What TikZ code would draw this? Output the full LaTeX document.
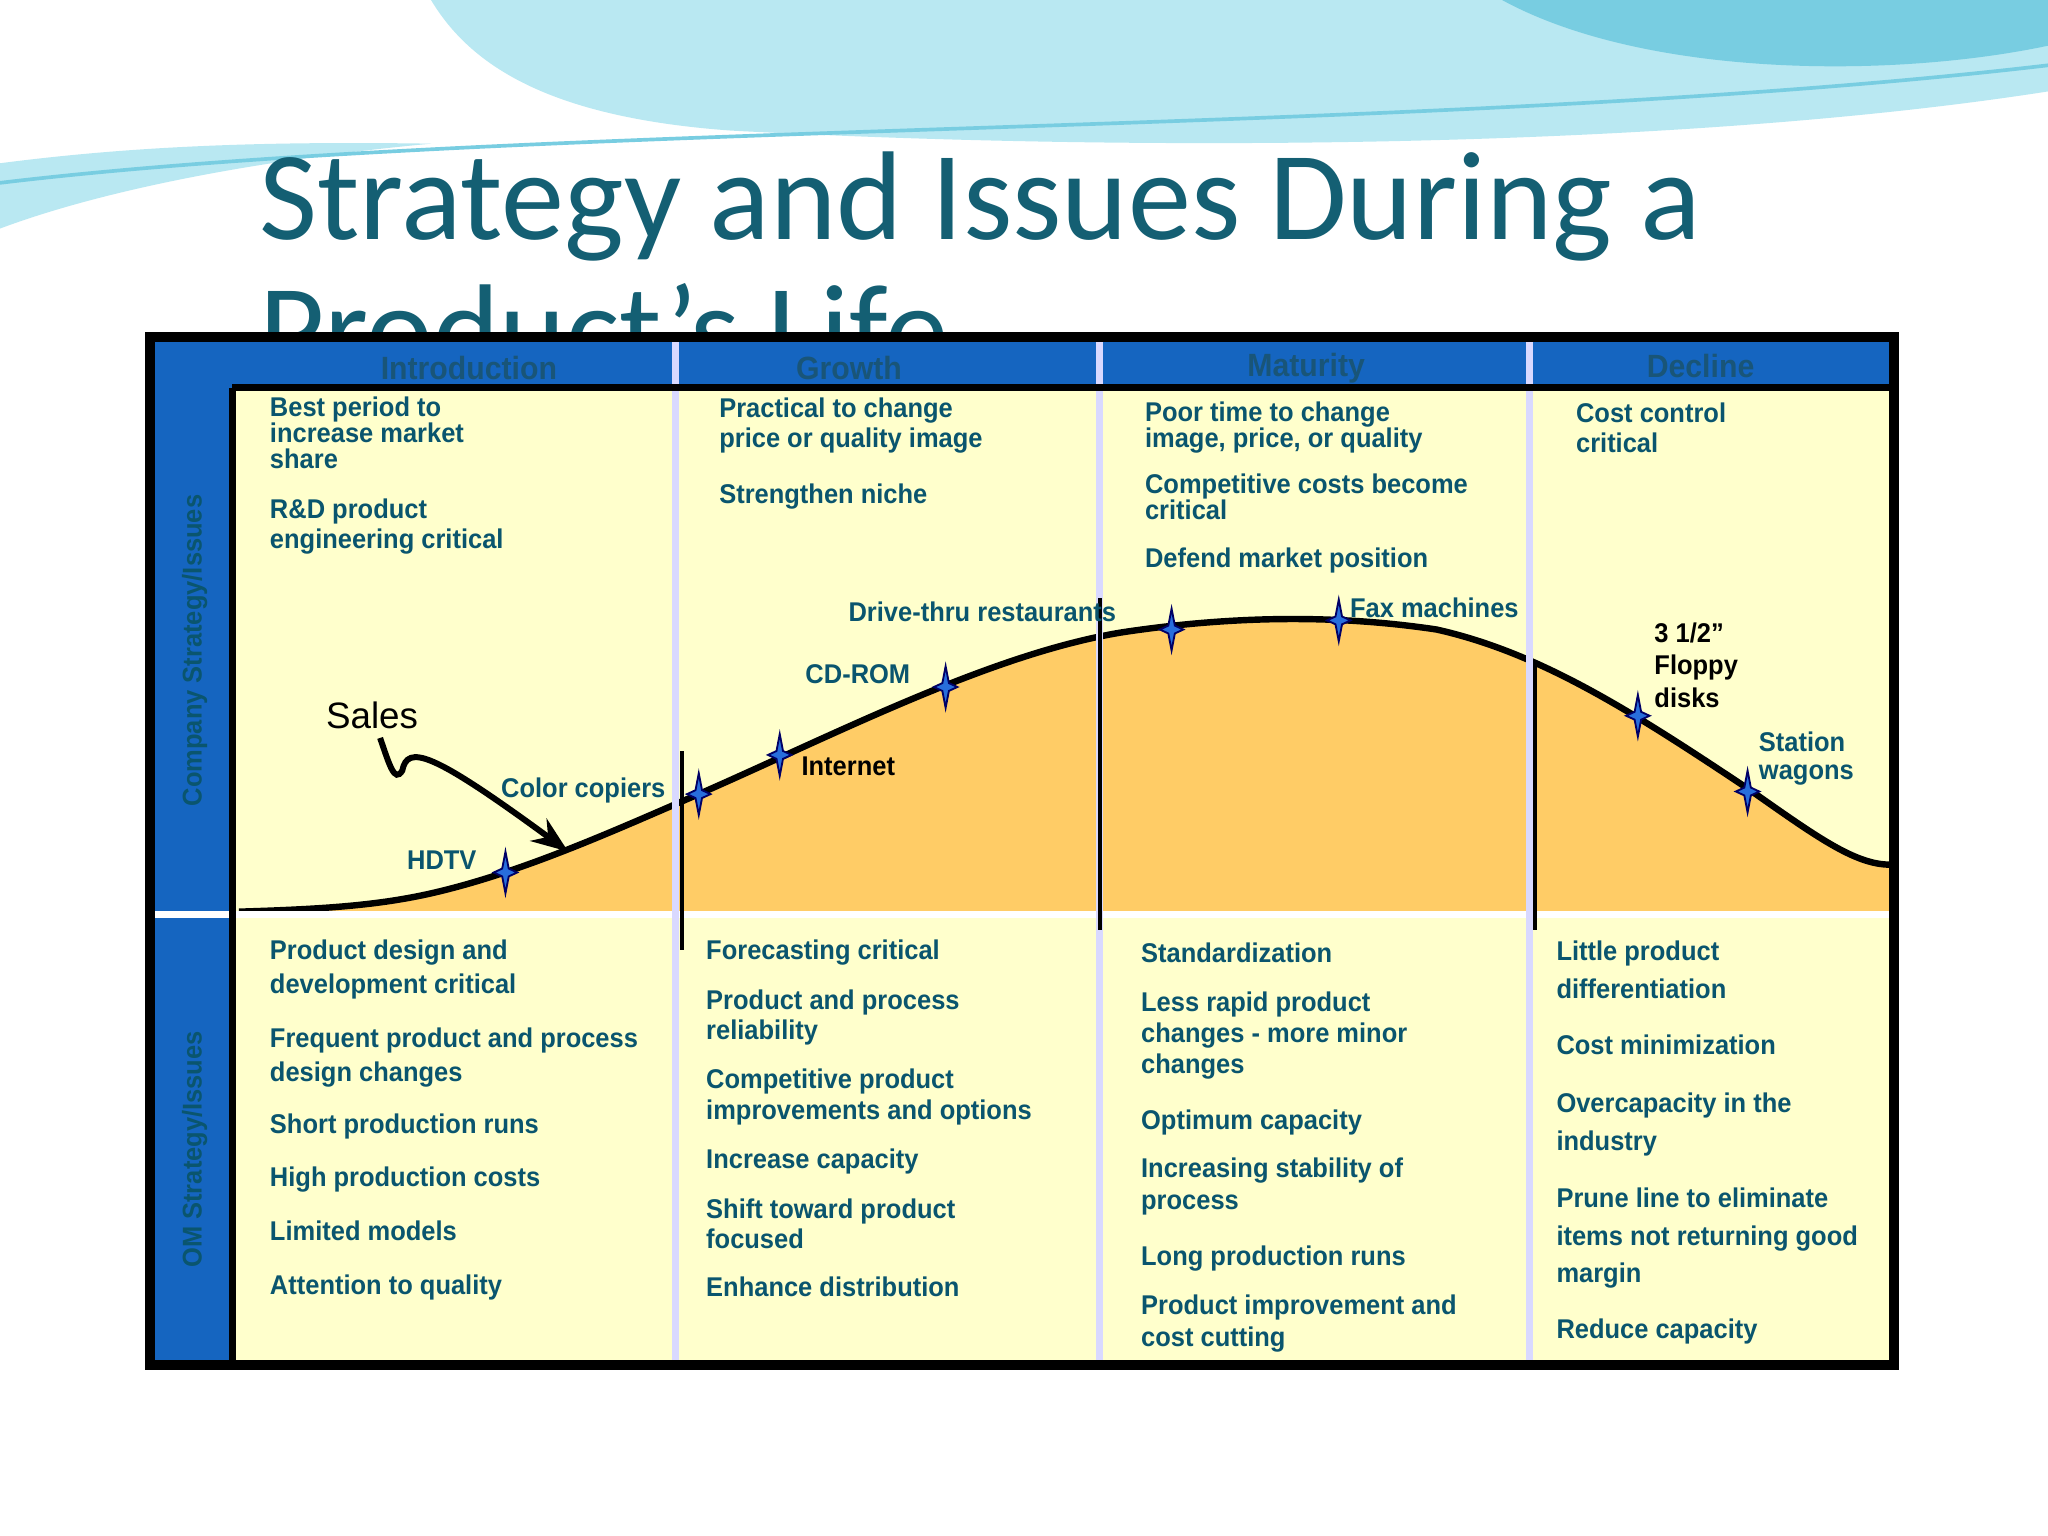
\documentclass[tikz,border=0pt]{standalone}
\usepackage{fontspec}
\setmainfont{Liberation Sans}
\newfontfamily\nar[FakeStretch=0.94]{Liberation Sans}
\newfontfamily\ttl{Carlito}
\usetikzlibrary{arrows.meta}
\definecolor{tealc}{RGB}{10,85,110}
\definecolor{titlec}{RGB}{20,95,115}
\definecolor{hdrblue}{RGB}{21,101,192}
\definecolor{hdrtxt}{RGB}{25,85,120}
\definecolor{bodyy}{RGB}{255,255,204}
\definecolor{curvef}{RGB}{255,204,102}
\definecolor{starb}{RGB}{40,110,220}
\definecolor{wave1}{RGB}{185,232,242}
\definecolor{wave2}{RGB}{120,205,225}
\newcommand\spark[1]{\filldraw[fill=starb,draw=blue!40!black,line width=0.4pt,shift={(#1)}] (0,-16)--(2.5,-3)--(9,0)--(2.5,3)--(0,16)--(-2.5,3)--(-9,0)--(-2.5,-3)--cycle;}
\begin{document}
\begin{tikzpicture}[x=0.01cm,y=-0.01cm,
  txt/.style={anchor=north west,inner sep=0,align=left,text=tealc,font=\nar\bfseries\fontsize{5.9}{#1}\selectfont},
  txt/.default=6.54,
  blk/.style={anchor=north west,inner sep=0,align=left,text=black,font=\nar\bfseries\fontsize{5.9}{#1}\selectfont},
  blk/.default=7.1,
  hdr/.style={inner sep=0,text=hdrtxt,font=\nar\bfseries\fontsize{7}{7}\selectfont},
  side/.style={inner sep=0,text=tealc,rotate=90,font=\nar\bfseries\fontsize{5.9}{5.9}\selectfont}]
\useasboundingbox (0,0) rectangle (1568,1176);
\fill[white] (0,0) rectangle (1568,1176);
% waves
\fill[wave1] (330,0)--(1568,0)--(1568,70) .. controls (1300,112) and (900,118) .. (560,100) .. controls (420,90) and (360,50) .. (330,0)--cycle;
\fill[wave2] (1150,0)--(1568,0)--(1568,35) .. controls (1450,60) and (1260,60) .. (1150,0)--cycle;
\fill[wave1] (0,125)--(0,175) .. controls (80,145) and (200,122) .. (330,110) .. controls (200,108) and (100,112) .. (0,125)--cycle;
\draw[wave2,line width=0.8pt] (0,140) .. controls (400,92) and (1100,105) .. (1568,50);
% title
\node[anchor=base west,inner sep=0,text=titlec,font=\ttl\fontsize{27.5}{27.5}\selectfont] (t1) at (198,183) {Strategy and Issues During a};
\begin{scope}
\clip (0,190) rectangle (1568,257);
\node[anchor=base west,inner sep=0,text=titlec,font=\ttl\fontsize{27.5}{27.5}\selectfont] (t2) at (198,285) {Product’s Life};
\end{scope}
% table
\fill[bodyy] (115,258) rectangle (1450,1045);
\fill[hdrblue] (115,258) rectangle (1450,297);
\fill[hdrblue] (115,297) rectangle (178,1045);
% curve
\fill[curvef] (183,698) .. controls (250,696) and (290,693) .. (330,684) .. controls (400,668) and (470,636) .. (535,608) .. controls (640,562) and (760,500) .. (860,484) .. controls (940,472) and (1020,470) .. (1100,482) .. controls (1180,500) and (1250,545) .. (1340,605) .. controls (1390,640) and (1420,662) .. (1447,662) -- (1447,698) -- cycle;
\draw[line width=1.4pt] (183,698) .. controls (250,696) and (290,693) .. (330,684) .. controls (400,668) and (470,636) .. (535,608) .. controls (640,562) and (760,500) .. (860,484) .. controls (940,472) and (1020,470) .. (1100,482) .. controls (1180,500) and (1250,545) .. (1340,605) .. controls (1390,640) and (1420,662) .. (1447,662);
\draw[white,line width=1.5pt] (115,700)--(1450,700);
\foreach \x in {517,842,1171} \draw[white!85!blue,line width=1.5pt] (\x,258)--(\x,1045);
\draw[line width=0.8pt] (522,575)--(522,727);
\draw[line width=0.8pt] (842,458)--(842,712);
\draw[line width=0.8pt] (1175,505)--(1175,712);
\draw[line width=2.2pt] (115,258) rectangle (1450,1045);
\draw[line width=1.5pt] (178,297)--(178,1045);
\draw[line width=1.5pt] (178,297)--(1450,297);
% headers
\node[hdr] (h1) at (359,282) {Introduction};
\node[hdr] (h2) at (650,282) {Growth};
\node[hdr] (h3) at (1000,282) {Maturity};
\node[hdr] (h4) at (1302,280) {Decline};
\node[side] (s1) at (149,498) {Company Strategy/Issues};
\node[side] (s2) at (149,880) {OM Strategy/Issues};
% top texts
\node[txt=5.69] (a1) at (206,303) {Best period to\\increase market\\share};
\node[txt] (a2) at (206,381) {R\&D product\\engineering critical};
\node[txt] (b1) at (550,304) {Practical to change\\price or quality image};
\node[txt] (b2) at (550,370) {Strengthen niche};
\node[txt=5.69] (c1) at (876,307) {Poor time to change\\image, price, or quality};
\node[txt=5.69] (c2) at (876,362) {Competitive costs become\\critical};
\node[txt] (c3) at (876,419) {Defend market position};
\node[txt] (d1) at (1206,308) {Cost control\\critical};
% bottom texts
\node[txt=7.4] (e1) at (206,719) {Product design and\\development critical};
\node[txt=7.4] (e2) at (206,786) {Frequent product and process\\design changes};
\node[txt] (e3) at (206,852) {Short production runs};
\node[txt] (e4) at (206,893) {High production costs};
\node[txt] (e5) at (206,934) {Limited models};
\node[txt] (e6) at (206,975) {Attention to quality};
\node[txt] (f1) at (540,719) {Forecasting critical};
\node[txt] (f2) at (540,757) {Product and process\\reliability};
\node[txt] (f3) at (540,818) {Competitive product\\improvements and options};
\node[txt] (f4) at (540,879) {Increase capacity};
\node[txt] (f5) at (540,917) {Shift toward product\\focused};
\node[txt] (f6) at (540,977) {Enhance distribution};
\node[txt] (g1) at (873,721) {Standardization};
\node[txt=6.7] (g2) at (873,759) {Less rapid product\\changes - more minor\\changes};
\node[txt] (g3) at (873,849) {Optimum capacity};
\node[txt=6.83] (g4) at (873,886) {Increasing stability of\\process};
\node[txt] (g5) at (873,953) {Long production runs};
\node[txt=6.83] (g6) at (873,991) {Product improvement and\\cost cutting};
\node[txt=8.25] (k1) at (1191,720) {Little product\\differentiation};
\node[txt] (k2) at (1191,792) {Cost minimization};
\node[txt=8.25] (k3) at (1191,836) {Overcapacity in the\\industry};
\node[txt=8.1] (k4) at (1191,909) {Prune line to eliminate\\items not returning good\\margin};
\node[txt] (k5) at (1191,1009) {Reduce capacity};
% curve labels
\node[txt] (l1) at (311,651) {HDTV};
\node[txt] (l2) at (383,595) {Color copiers};
\node[blk] (l3) at (613,579) {Internet};
\node[txt] (l4) at (616,508) {CD-ROM};
\node[txt] (l5) at (649,460) {Drive-thru restaurants};
\node[txt] (l6) at (1033,457) {Fax machines};
\node[blk=7.1] (l7) at (1266,476) {3 1/2”\\Floppy\\disks};
\node[txt=5.9] (l8) at (1346,560) {Station\\wagons};
% stars
\spark{387,668}\spark{535,608}\spark{597,578}\spark{724,526}\spark{897,482}\spark{1025,475}\spark{1254,548}\spark{1338,606}
% sales
\node[anchor=base west,inner sep=0,font=\fontsize{8}{8}\selectfont] (sales) at (249,558) {Sales};
\coordinate (tip) at (435,652);
\draw[line width=1.3pt,-{Stealth[length=8pt]}] (sales.south west) ++(42,6) .. controls (298,585) and (302,600) .. (308,590) .. controls (312,570) and (330,575) .. (tip);
\end{tikzpicture}
\end{document}
